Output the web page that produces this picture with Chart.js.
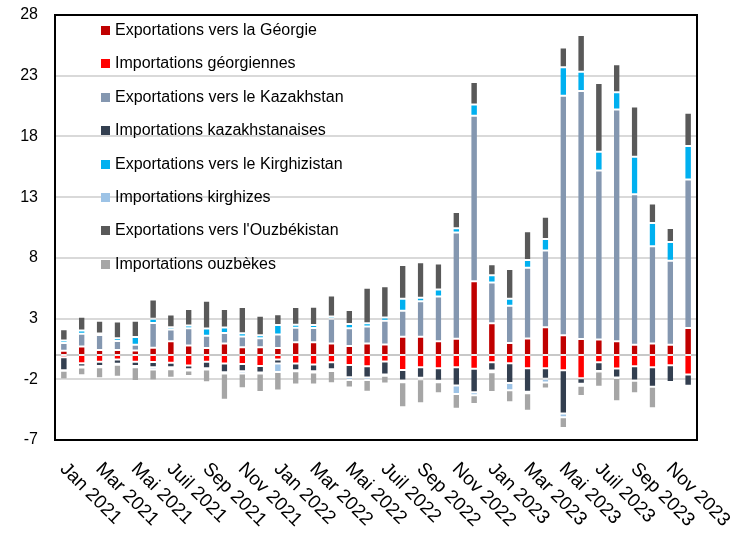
<!DOCTYPE html>
<html>
<head>
<meta charset="utf-8">
<script src="https://cdn.jsdelivr.net/npm/chart.js@4"></script>
<style>
  body { margin: 0; background: #fff; }
  #wrap { position: relative; width: 753px; height: 542px; }
  #legend { position: absolute; left: 101px; top: 0; font: 16px "Liberation Sans", Arial, sans-serif; color: #000; }
  .item { position: absolute; left: 0; white-space: nowrap; height: 20px; line-height: 20px; }
  .box { display: inline-block; width: 9px; height: 9px; margin-right: 5px; vertical-align: 0px; }
</style>
</head>
<body>
<div id="wrap">
  <canvas id="chart" width="753" height="542"></canvas>
  <div id="legend"></div>
</div>
<script>
const months = [
  "Jan 2021", "Fév 2021", "Mar 2021", "Avr 2021", "Mai 2021", "Juin 2021",
  "Juil 2021", "Août 2021", "Sep 2021", "Oct 2021", "Nov 2021", "Déc 2021",
  "Jan 2022", "Fév 2022", "Mar 2022", "Avr 2022", "Mai 2022", "Juin 2022",
  "Juil 2022", "Août 2022", "Sep 2022", "Oct 2022", "Nov 2022", "Déc 2022",
  "Jan 2023", "Fév 2023", "Mar 2023", "Avr 2023", "Mai 2023", "Juin 2023",
  "Juil 2023", "Août 2023", "Sep 2023", "Oct 2023", "Nov 2023", "Déc 2023"
];
const yTicks = [-7, -2, 3, 8, 13, 18, 23, 28];

const expGeorgia = [0.35, 0.71, 0.41, 0.41, 0.38, 0.6, 1.14, 0.79, 0.57, 0.95, 0.63, 0.63,
  0.57, 1.04, 1.06, 0.95, 0.74, 0.95, 0.87, 1.5, 1.5, 1.14, 1.34, 6.08,
  2.62, 0.98, 1.36, 2.29, 1.63, 1.31, 1.28, 1.14, 0.84, 0.95, 0.84, 2.23];
const impGeorgia = [-0.19, -0.68, -0.55, -0.38, -0.55, -0.57, -0.63, -0.87, -0.55, -0.71, -0.74, -0.9,
  -0.38, -0.71, -0.79, -0.6, -0.82, -0.93, -0.54, -1.23, -1.01, -1.09, -1.01, -1.14,
  -0.6, -0.68, -1.09, -1.09, -1.25, -1.91, -0.6, -1.12, -0.93, -1.01, -0.84, -1.61];
const expKazakhstan = [0.63, 1.04, 1.23, 0.74, 0.46, 2.04, 0.95, 1.42, 1.01, 0.87, 0.9, 0.74,
  1.12, 1.2, 1.17, 2.04, 1.47, 1.39, 1.96, 2.15, 2.92, 3.68, 8.75, 13.62,
  3.35, 3.08, 5.83, 6.32, 19.73, 20.44, 13.92, 19.07, 12.4, 8.01, 6.92, 12.23];
const impKazakhstan = [-1.06, -0.27, -0.35, -0.35, -0.35, -0.44, -0.38, -0.3, -0.54, -0.71, -0.6, -0.54,
  -0.33, -0.54, -0.54, -0.57, -1.01, -0.93, -1.06, -0.87, -0.87, -1.04, -1.5, -1.93,
  -0.68, -1.63, -1.93, -0.87, -3.57, -0.46, -0.71, -0.74, -1.17, -1.61, -1.39, -0.93];
const expKyrgyzstan = [0.22, 0.27, 0.14, 0.22, 0.65, 0.35, 0.19, 0.22, 0.6, 0.44, 0.27, 0.25,
  0.79, 0.25, 0.25, 0.19, 0.35, 0.27, 0.25, 0.98, 0.3, 0.57, 0.35, 0.93,
  0.6, 0.57, 0.63, 0.95, 2.34, 1.58, 1.53, 1.42, 3.08, 1.91, 1.55, 2.75];
const impKyrgyzstan = [-0.05, -0.08, -0.11, -0.08, -0.11, -0.19, -0.16, -0.11, -0.11, -0.11, -0.19, -0.08,
  -0.68, -0.08, -0.11, -0.14, -0.22, -0.19, -0.11, -0.14, -0.11, -0.11, -0.71, -0.25,
  -0.14, -0.6, -0.14, -0.3, -0.3, -0.16, -0.05, -0.03, -0.03, 0, 0, 0];
const expUzbekistan = [0.93, 1.12, 1.04, 1.39, 1.34, 1.58, 1.06, 1.36, 2.29, 1.53, 2.15, 1.61,
  0.87, 1.47, 1.5, 1.72, 1.14, 2.92, 2.59, 2.78, 2.92, 2.15, 1.34, 1.85,
  0.9, 2.45, 2.37, 1.83, 1.63, 3.02, 5.67, 2.32, 4.14, 1.61, 1.14, 2.75];
const impUzbekistan = [-0.71, -0.63, -0.9, -0.98, -1.14, -0.9, -0.71, -0.44, -1.04, -2.15, -1.2, -1.53,
  -1.53, -1.09, -0.98, -1.01, -0.63, -0.98, -0.63, -2.07, -1.99, -0.9, -1.2, -0.71,
  -1.63, -0.98, -1.44, -0.49, -0.9, -0.84, -1.25, -1.91, -1.01, -1.77, 0, 0];

const series = [
  { label: "Exportations vers la Géorgie", data: expGeorgia, color: "#C00000" },
  { label: "Importations géorgiennes", data: impGeorgia, color: "#FF0000" },
  { label: "Exportations vers le Kazakhstan", data: expKazakhstan, color: "#8497B0" },
  { label: "Importations kazakhstanaises", data: impKazakhstan, color: "#333F50" },
  { label: "Exportations vers le Kirghizistan", data: expKyrgyzstan, color: "#00B0F0" },
  { label: "Importations kirghizes", data: impKyrgyzstan, color: "#9DC3E6" },
  { label: "Exportations vers l'Ouzbékistan", data: expUzbekistan, color: "#595959" },
  { label: "Importations ouzbèkes", data: impUzbekistan, color: "#A6A6A6" }
];

const FONT = '"Liberation Sans", Arial, sans-serif';

// zero line + plot border + rotated month labels
const extras = {
  id: "extras",
  beforeDatasetsDraw(chart) {
    const { ctx, chartArea, scales: { y } } = chart;
    const y0 = y.getPixelForValue(0);
    ctx.save();
    ctx.strokeStyle = "#c8c8c8";
    ctx.lineWidth = 2;
    ctx.beginPath();
    ctx.moveTo(chartArea.left, y0);
    ctx.lineTo(chartArea.right, y0);
    ctx.stroke();
    ctx.restore();
  },
  afterDraw(chart) {
    const { ctx, chartArea, scales: { x } } = chart;
    ctx.save();
    ctx.strokeStyle = "#000";
    ctx.lineWidth = 2;
    ctx.strokeRect(chartArea.left, chartArea.top, chartArea.right - chartArea.left, chartArea.bottom - chartArea.top);

    ctx.font = "19px " + FONT;
    ctx.fillStyle = "#000";
    ctx.textAlign = "left";
    ctx.textBaseline = "middle";
    months.forEach((m, i) => {
      if (i % 2) return;
      const px = x.getPixelForValue(i);
      ctx.save();
      ctx.translate(px - 1, chartArea.bottom + 26);
      ctx.rotate(Math.PI / 4);
      ctx.fillText(m, 0, 0);
      ctx.restore();
    });
    ctx.restore();
  }
};

const ctx = document.getElementById("chart").getContext("2d");
new Chart(ctx, {
  type: "bar",
  data: {
    labels: months,
    datasets: series.map(s => ({
      label: s.label,
      data: s.data,
      backgroundColor: s.color,
      borderColor: "rgba(255,255,255,0.7)",
      borderWidth: { top: 1, bottom: 1, left: 0, right: 0 },
      borderSkipped: false,
      barPercentage: 0.32,
      categoryPercentage: 1
    }))
  },
  options: {
    responsive: false,
    animation: false,
    layout: { padding: { top: 15, right: 56, left: 0, bottom: 0 } },
    plugins: {
      legend: { display: false },
      tooltip: { enabled: false }
    },
    scales: {
      x: {
        stacked: true,
        grid: { display: false },
        border: { display: false },
        ticks: { display: false },
        afterFit(scale) { scale.height = 102; }
      },
      y: {
        stacked: true,
        min: -7,
        max: 28,
        afterBuildTicks(scale) { scale.ticks = yTicks.map(v => ({ value: v })); },
        afterFit(scale) { scale.width = 55; },
        // invisible tick marks push the labels left without adding top padding
        grid: { color: "#d9d9d9", lineWidth: 2, drawTicks: true, tickLength: 17, tickColor: "transparent" },
        border: { display: false },
        ticks: {
          padding: 0,
          color: "#000",
          font: { size: 16, family: FONT }
        }
      }
    }
  },
  plugins: [extras]
});

// legend inside the plot area, top-left
const legend = document.getElementById("legend");
series.forEach((s, i) => {
  const div = document.createElement("div");
  div.className = "item";
  div.style.top = (20 + i * 33.4) + "px";
  div.innerHTML = `<span class="box" style="background:${s.color}"></span>${s.label}`;
  legend.appendChild(div);
});
</script>
</body>
</html>
